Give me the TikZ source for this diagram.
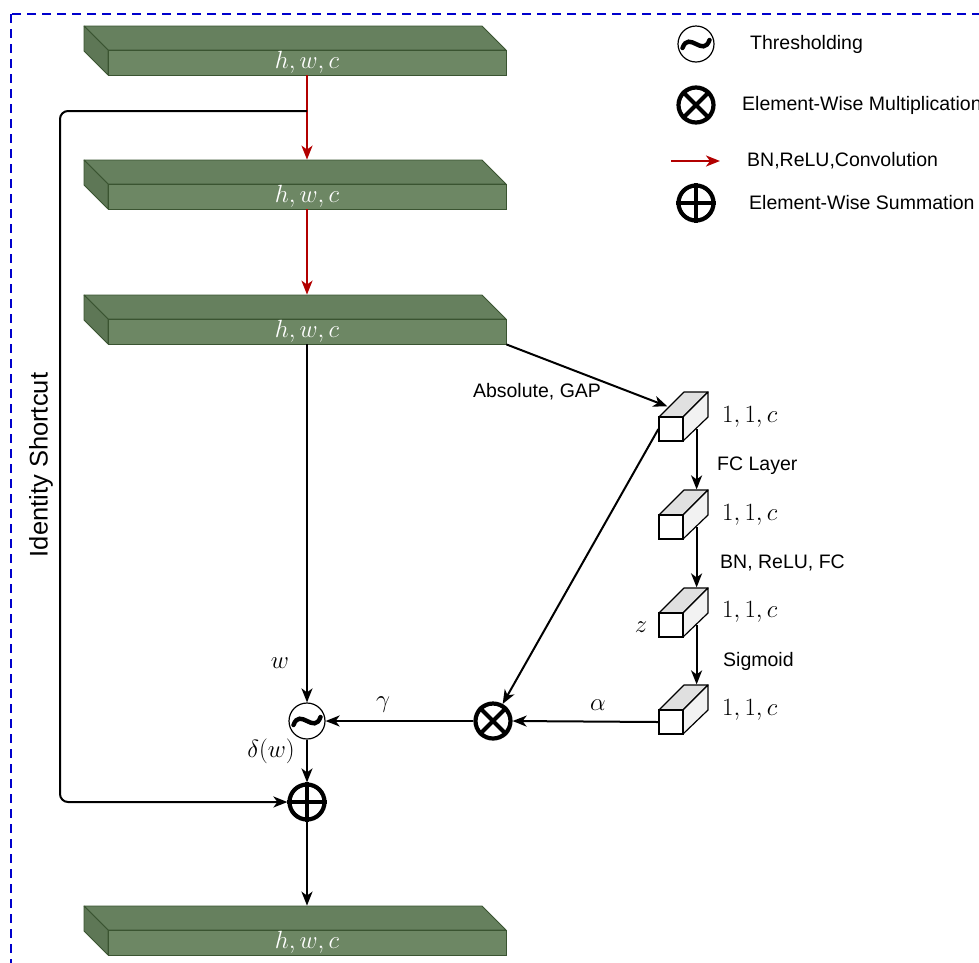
\documentclass[tikz,border=0pt]{standalone}
\usepackage{fontspec}
\setmainfont{Liberation Sans}
\usetikzlibrary{arrows.meta,calc}
\definecolor{slabfront}{HTML}{6D8764}
\definecolor{slabtop}{HTML}{66805E}
\definecolor{slabside}{HTML}{5E7756}
\definecolor{slabline}{HTML}{3A5431}
\definecolor{convred}{HTML}{B20000}
\definecolor{borderblue}{HTML}{0000CC}
\definecolor{cubetop}{HTML}{E0E0E0}
\definecolor{cubeside}{HTML}{F2F2F2}
\tikzset{
  lbl/.style={font=\fontsize{19.5}{22}\selectfont, inner sep=0pt},
  mlbl/.style={font=\fontsize{23}{26}\selectfont, inner sep=0pt},
  conn/.style={line width=2pt, -{Stealth[length=14pt,width=11pt,inset=4pt]}},
  redconn/.style={line width=2pt, draw=convred, -{Stealth[length=14pt,width=11pt,inset=4pt]}},
  slabface/.style={draw=slabline, line width=0.8pt, fill=slabfront, minimum width=398pt,
    minimum height=25pt, inner sep=0pt, text=white, font=\fontsize{23}{26}\selectfont},
  slabpoly/.style={draw=slabline, line width=0.8pt, line join=round},
  cubeface/.style={draw, line width=1.2pt, fill=white, minimum size=24pt, inner sep=0pt},
  cubepoly/.style={draw, line width=1.2pt, line join=round},
  thr/.style={circle, draw, line width=1.2pt, minimum size=36pt, inner sep=0pt},
  opc/.style={circle, draw, line width=4.2pt, minimum size=35pt, inner sep=0pt},
  heavy/.style={line width=4.2pt},
  tildeline/.style={line width=4.4pt, line cap=round},
}
\newcommand\myslab[3]{%
  \filldraw[slabpoly, fill=slabtop] (84,#2) -- (482,#2) -- (506,#2+24) -- (108,#2+24) -- cycle;
  \filldraw[slabpoly, fill=slabside] (84,#2) -- (108,#2+24) -- (108,#2+49) -- (84,#2+25) -- cycle;
  \node[slabface] (#1) at (307,#2+36.5) {#3};
}
\newcommand\mycube[3]{%
  \filldraw[cubepoly, fill=cubetop] (#2-12,#3-12) -- (#2+13,#3-37) -- (#2+37,#3-37) -- (#2+12,#3-12) -- cycle;
  \filldraw[cubepoly, fill=cubeside] (#2+12,#3-12) -- (#2+37,#3-37) -- (#2+37,#3-12) -- (#2+12,#3+12) -- cycle;
  \node[cubeface] (#1) at (#2,#3) {};
}
\newcommand\mytilde[1]{%
  \draw[tildeline] ($(#1)+(-13.5,4)$) .. controls ($(#1)+(-7,-14)$) and ($(#1)+(7,14)$) .. ($(#1)+(13.5,-4)$);
}
\newcommand\mytimes[1]{%
  \draw[heavy] (#1.north east) -- (#1.south west);
  \draw[heavy] (#1.north west) -- (#1.south east);
}
\newcommand\myplus[1]{%
  \draw[heavy] (#1.north) -- (#1.south);
  \draw[heavy] (#1.west) -- (#1.east);
}
\begin{document}
\begin{tikzpicture}[x=1pt,y=-1pt]
\useasboundingbox (0,0) rectangle (979,962);
\clip (0,0) rectangle (979,962);
% border
\draw[borderblue, line width=2.2pt, dash pattern=on 9pt off 6pt] (11,14) rectangle (1010,1000);

% slabs
\myslab{s1}{26}{$h,w,c$}
\myslab{s2}{160}{$h,w,c$}
\myslab{s3}{295}{$h,w,c$}
\myslab{s4}{906}{$h,w,c$}

% cubes
\mycube{c1}{671}{429}
\mycube{c2}{671}{527}
\mycube{c3}{671}{625}
\mycube{c4}{671}{722}

% operators
\node[thr] (th) at (307,721) {};
\mytilde{th}
\node[opc] (op) at (307,802) {};
\myplus{op}
\node[opc] (ot) at (493,721) {};
\mytimes{ot}

% main path
\draw[redconn] (s1.south) -- ($(s2.north)+(0,-24)$);
\draw[redconn] (s2.south) -- ($(s3.north)+(0,-24)$);
\draw[conn] (s3.south) -- (th.north);
\draw[conn] (th.south) -- (op.north);
\draw[conn] (op.south) -- ($(s4.north)+(0,-24)$);

% identity shortcut
\coordinate (sc) at (307,111);
\draw[conn, rounded corners=8pt] (sc) -- (60,111) |- (op.west);
\node[lbl, font=\fontsize{25.5}{28}\selectfont, rotate=90] (idl) at (41,465) {Identity Shortcut};

% attention branch
\draw[conn] (s3.south east) -- ($(c1.north west)+(9,-10)$);
\node[lbl] (gap) at (537,392) {Absolute, GAP};
\draw[conn] ($(c1.east)+(13,0)$) -- ($(c2.north east)+(13,-25)$);
\draw[conn] ($(c2.east)+(13,0)$) -- ($(c3.north east)+(13,-25)$);
\draw[conn] ($(c3.east)+(13,0)$) -- ($(c4.north east)+(13,-25)$);
\draw[conn] (c1.west) -- (ot);
\draw[conn] (c4.west) -- (ot.east);
\draw[conn] (ot.west) -- (th.east);

% cube labels
\node[mlbl, anchor=west] (l1) at (722,417) {$1,1,c$};
\node[mlbl, anchor=west] (l2) at (722,515) {$1,1,c$};
\node[mlbl, anchor=west] (l3) at (722,612) {$1,1,c$};
\node[mlbl, anchor=west] (l4) at (722,710) {$1,1,c$};
\node[lbl, anchor=west] (fcl) at (717,466) {FC Layer};
\node[lbl, anchor=west] (brf) at (720,563) {BN, ReLU, FC};
\node[lbl, anchor=west] (sig) at (723,661) {Sigmoid};
\node[mlbl] (zl) at (641,627) {$z$};
\node[mlbl] (wl) at (280,663) {$w$};
\node[mlbl] (gl) at (383,705) {$\gamma$};
\node[mlbl] (al) at (598,705) {$\alpha$};
\node[mlbl] (dl) at (271,751) {$\delta(w)$};

% legend
\node[thr] (lth) at (696,44) {};
\mytilde{lth}
\node[lbl, anchor=west] (lt1) at (750,44) {Thresholding};
\node[opc] (lot) at (696,105) {};
\mytimes{lot}
\node[lbl, anchor=west] (lt2) at (742,105) {Element-Wise Multiplication};
\coordinate (ra) at (671,161);
\coordinate (rb) at (720,161);
\draw[redconn] (ra) -- (rb);
\node[lbl, anchor=west] (lt3) at (747,161) {BN,ReLU,Convolution};
\node[opc] (lop) at (696,203) {};
\myplus{lop}
\node[lbl, anchor=west] (lt4) at (749,203) {Element-Wise Summation};
\end{tikzpicture}
\end{document}
